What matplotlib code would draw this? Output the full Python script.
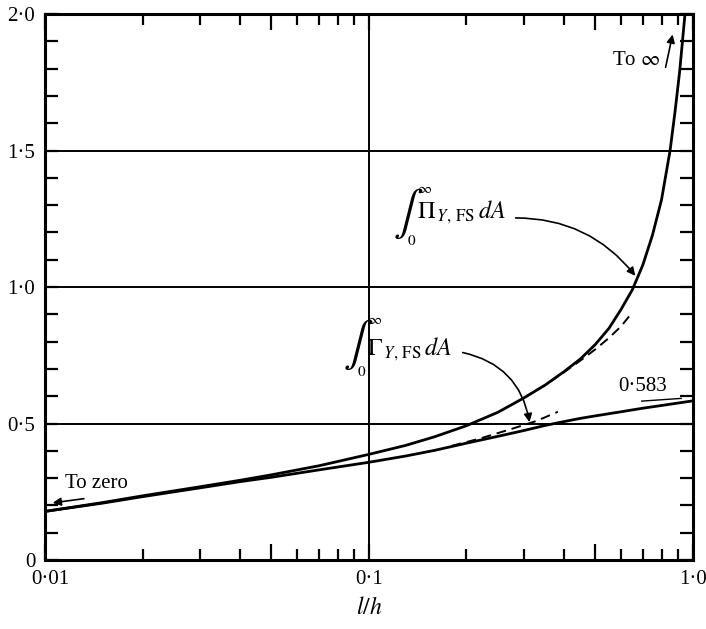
import matplotlib
matplotlib.use("Agg")
import matplotlib.pyplot as plt
from matplotlib.ticker import FixedLocator, NullFormatter
from matplotlib.transforms import ScaledTranslation

plt.rcParams["font.family"] = ["Liberation Serif", "DejaVu Serif"]
plt.rcParams["mathtext.fontset"] = "stix"

# Pi curve (upper, goes to infinity)
pi_x = [0.01, 0.015, 0.02, 0.03, 0.04, 0.05, 0.07, 0.1, 0.13, 0.16, 0.2, 0.25,
        0.3, 0.35, 0.4, 0.45, 0.5, 0.55, 0.6, 0.65, 0.7, 0.75, 0.8, 0.85,
        0.88, 0.91, 0.94, 0.945]
pi_y = [0.178, 0.210, 0.235, 0.268, 0.292, 0.312, 0.345, 0.387, 0.420, 0.452,
        0.492, 0.541, 0.593, 0.641, 0.690, 0.737, 0.790, 0.848, 0.918, 0.990,
        1.08, 1.19, 1.32, 1.50, 1.64, 1.79, 1.97, 2.0]

# Gamma curve (lower, tends to 0.583)
gam_x = [0.01, 0.015, 0.02, 0.03, 0.04, 0.05, 0.07, 0.1, 0.13, 0.16, 0.2, 0.25,
         0.3, 0.35, 0.4, 0.45, 0.5, 0.6, 0.7, 0.8, 0.9, 1.0]
gam_y = [0.178, 0.208, 0.232, 0.264, 0.287, 0.303, 0.330, 0.358, 0.381, 0.402,
         0.428, 0.453, 0.474, 0.493, 0.507, 0.519, 0.528, 0.543, 0.556, 0.566,
         0.575, 0.583]

# dashed approximations
pi_dash_x = [0.3, 0.35, 0.4, 0.45, 0.5, 0.55, 0.6, 0.64]
pi_dash_y = [0.593, 0.641, 0.688, 0.731, 0.772, 0.813, 0.856, 0.897]
gam_dash_x = [0.18, 0.22, 0.272, 0.33, 0.383]
gam_dash_y = [0.418, 0.445, 0.478, 0.510, 0.543]

x_ticks = [0.01, 0.05, 0.1, 0.5, 1.0]
x_labels = ["0\u00b701", "", "0\u00b71", "", "1\u00b70"]
y_ticks = [0, 0.5, 1.0, 1.5, 2.0]
y_labels = ["0", "0\u00b75", "1\u00b70", "1\u00b75", "2\u00b70"]


def integral_label(ax, x, y, body, body_dy):
    """Integral sign with limits 0..inf, then the integrand; (x, y) is the sign's left centre."""
    kw = dict(xy=(x, y), xycoords="data", textcoords="offset pixels")
    ax.annotate(r"$\int$", xytext=(-2, 0), fontsize=32, ha="left", va="center", **kw)
    ax.annotate(r"$\infty$", xytext=(30, 25), fontsize=11, ha="center", va="center", **kw)
    ax.annotate(r"$0$", xytext=(17, -27), fontsize=11, ha="center", va="center", **kw)
    ax.annotate(body, xytext=(22, body_dy), fontsize=17.5, ha="left", va="baseline", **kw)


fig = plt.figure(figsize=(7.06, 6.29), dpi=100)
ax = fig.add_axes([0.0637, 0.1097, 0.9178, 0.868])

ax.set_xscale("log")
ax.set_xlim(0.01, 1.0)
ax.set_ylim(0, 2.0)

for yg in [0.5, 1.0, 1.5]:
    ax.axhline(yg, color="black", lw=1.4, zorder=1)
ax.axvline(0.1, color="black", lw=1.4, zorder=1)

ax.plot(pi_x, pi_y, color="black", lw=2.0, zorder=3)
ax.plot(gam_x, gam_y, color="black", lw=2.0, zorder=3)
ax.plot(pi_dash_x, pi_dash_y, color="black", lw=1.4, ls=(0, (5, 3)), zorder=3)
ax.plot(gam_dash_x, gam_dash_y, color="black", lw=1.4, ls=(0, (5, 3)), zorder=3)

# ticks
ax.xaxis.set_major_locator(FixedLocator(x_ticks))
ax.set_xticklabels(x_labels)
minor_x = [m * d for d in (0.01, 0.1) for m in (2, 3, 4, 6, 7, 8, 9)]
ax.xaxis.set_minor_locator(FixedLocator(minor_x))
ax.xaxis.set_minor_formatter(NullFormatter())
ax.set_yticks(y_ticks)
ax.set_yticklabels(y_labels)
ax.yaxis.set_minor_locator(FixedLocator([i / 10 for i in range(1, 20)]))

ax.tick_params(axis="both", which="both", direction="in", top=True, right=True,
               width=1.6, labelsize=15, color="black")
ax.tick_params(axis="x", which="major", length=11.5, pad=7)
ax.tick_params(axis="x", which="minor", length=7.6)
ax.tick_params(axis="y", which="both", length=9.1, pad=7)

# the 0.01 label sits a little to the right of the corner
first = ax.xaxis.get_major_ticks()[0].label1
first.set_transform(first.get_transform() + ScaledTranslation(0.055, 0, fig.dpi_scale_trans))

for sp in ax.spines.values():
    sp.set_linewidth(2.2)

ax.set_xlabel("$l/h$", fontsize=17, labelpad=6)

# annotations
ax.text(0.0115, 0.282, "To zero", fontsize=15, va="center", ha="left")
ax.annotate("", xy=(0.01036, 0.208), xytext=(0.01345, 0.226),
            arrowprops=dict(arrowstyle="-|>", color="black", lw=1.2,
                            mutation_scale=12))

ax.text(0.795, 1.83, "To $\\infty$", fontsize=15, va="center", ha="right")
ax.annotate("", xy=(0.869, 1.935), xytext=(0.820, 1.795),
            arrowprops=dict(arrowstyle="-|>", color="black", lw=1.2,
                            mutation_scale=12))

ax.text(0.587, 0.635, "0\u00b7583", fontsize=15, va="center", ha="left")
ax.plot([0.695, 0.92], [0.582, 0.592], color="black", lw=1.0)

integral_label(ax, 0.1203, 1.267, r"$\Pi_{\,Y,\,\mathrm{FS}}\,dA$", -4)
ax.annotate("", xy=(0.672, 1.033), xytext=(0.278, 1.253),
            arrowprops=dict(arrowstyle="-|>", color="black", lw=1.2,
                            mutation_scale=12,
                            connectionstyle="arc3,rad=-0.25"))

integral_label(ax, 0.0843, 0.7875, r"$\Gamma_{\,Y,\,\mathrm{FS}}\,dA$", -10)
ax.annotate("", xy=(0.314, 0.495), xytext=(0.191, 0.762),
            arrowprops=dict(arrowstyle="-|>", color="black", lw=1.2,
                            mutation_scale=12,
                            connectionstyle="arc3,rad=-0.35"))

fig.savefig("out.png", dpi=100)
